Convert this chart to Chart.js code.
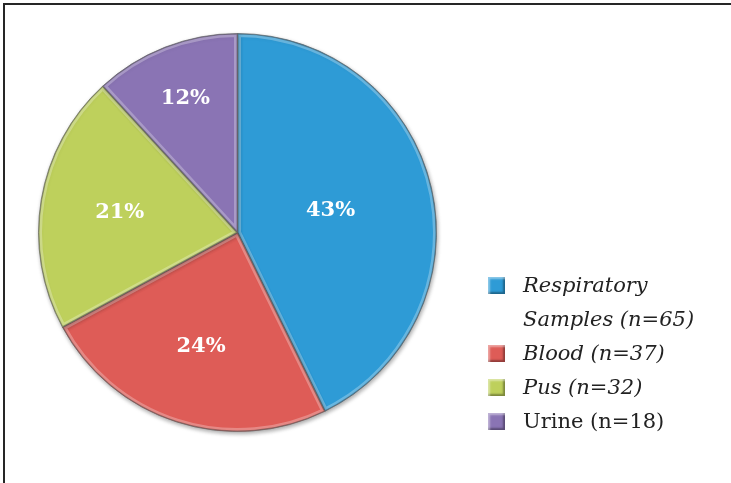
<!DOCTYPE html>
<html>
<head>
<meta charset="utf-8">
<script src="https://cdn.jsdelivr.net/npm/chart.js@4.4.1/dist/chart.umd.min.js"></script>
<style>
  html, body { margin: 0; padding: 0; background: #fff; }
  .frame {
    position: absolute; left: 3px; top: 3px; width: 740px; height: 490px;
    border-top: 2px solid #262626; border-left: 2px solid #262626;
  }
  .chart-box { position: absolute; left: 0; top: 0; width: 731px; height: 483px; }
  .legend { position: absolute; left: 488px; top: 268px; font-family: 'DejaVu Serif', serif; font-size: 21px; color: #222; }
  .legend-item { position: relative; padding-left: 35px; line-height: 34px; white-space: nowrap; }
  .legend-item.italic { font-style: italic; }
  .legend-box {
    position: absolute; left: 0; top: 9px; width: 17px; height: 17px;
    box-shadow: inset 2px 2px 2px rgba(255,255,255,0.45), inset -2px -2px 2px rgba(0,0,0,0.35);
  }
</style>
</head>
<body>
<div class="frame"></div>
<div class="chart-box"><canvas id="pieChart"></canvas></div>
<div class="legend" id="legend"></div>
<script>
// 검체별 분포
const labels = ['Respiratory Samples', 'Blood', 'Pus', 'Urine'];
const counts = [65, 37, 32, 18];
const legendText = [
  ['Respiratory', 'Samples (n=65)'],
  ['Blood (n=37)'],
  ['Pus (n=32)'],
  ['Urine (n=18)'],
];
const legendItalic = [true, true, true, false];
const colors = ['#2E9BD6', '#DE5C57', '#BED05C', '#8A74B4'];

// 라벨 위치 (반지름 비율)
const labelRadius = [0.48, 0.6, 0.6, 0.72];

const total = counts.reduce((a, b) => a + b, 0);

// 입체감 표현 (그림자 + 하이라이트)
const bevelPlugin = {
  id: 'bevel',
  beforeDatasetsDraw(chart) {
    const ctx = chart.ctx;
    ctx.save();
    ctx.shadowColor = 'rgba(0,0,0,0.35)';
    ctx.shadowBlur = 4;
    ctx.shadowOffsetX = 1;
    ctx.shadowOffsetY = 2;
  },
  afterDatasetsDraw(chart) {
    const ctx = chart.ctx;
    ctx.restore();
    const meta = chart.getDatasetMeta(0);
    meta.data.forEach((arc) => {
      const { x, y, startAngle, endAngle, outerRadius } = arc.getProps(
        ['x', 'y', 'startAngle', 'endAngle', 'outerRadius'],
        true
      );
      ctx.save();
      ctx.beginPath();
      ctx.moveTo(x, y);
      ctx.arc(x, y, outerRadius, startAngle, endAngle);
      ctx.closePath();
      ctx.clip();
      ctx.lineJoin = 'round';
      ctx.strokeStyle = 'rgba(255,255,255,0.28)';
      ctx.lineWidth = 7;
      ctx.stroke();
      ctx.strokeStyle = 'rgba(0,0,0,0.28)';
      ctx.lineWidth = 2;
      ctx.stroke();
      ctx.restore();
    });
  },
};

// 퍼센트 라벨
const percentLabels = {
  id: 'percentLabels',
  afterDraw(chart) {
    const ctx = chart.ctx;
    const meta = chart.getDatasetMeta(0);
    ctx.save();
    ctx.font = 'bold 21px "DejaVu Serif", serif';
    ctx.fillStyle = '#fff';
    ctx.textAlign = 'center';
    ctx.textBaseline = 'middle';
    meta.data.forEach((arc, i) => {
      const { x, y, startAngle, endAngle, outerRadius } = arc.getProps(
        ['x', 'y', 'startAngle', 'endAngle', 'outerRadius'],
        true
      );
      const mid = (startAngle + endAngle) / 2;
      const r = outerRadius * labelRadius[i];
      const pct = Math.round((counts[i] / total) * 100);
      ctx.fillText(pct + '%', x + Math.cos(mid) * r, y + Math.sin(mid) * r);
    });
    ctx.restore();
  },
};

const config = {
  type: 'pie',
  data: {
    labels,
    datasets: [
      {
        data: counts,
        backgroundColor: colors,
        borderColor: 'rgba(70,70,70,0.55)',
        borderWidth: 1,
      },
    ],
  },
  options: {
    responsive: true,
    maintainAspectRatio: false,
    animation: false,
    layout: {
      padding: { left: 38, top: 33, right: 294, bottom: 51 },
    },
    plugins: {
      legend: { display: false },
      tooltip: { enabled: false },
    },
  },
  plugins: [bevelPlugin, percentLabels],
};

new Chart(document.getElementById('pieChart').getContext('2d'), config);

// 범례
const legendEl = document.getElementById('legend');
legendText.forEach((lines, i) => {
  const item = document.createElement('div');
  item.className = 'legend-item' + (legendItalic[i] ? ' italic' : '');
  const box = document.createElement('span');
  box.className = 'legend-box';
  box.style.background = colors[i];
  item.appendChild(box);
  lines.forEach((line, j) => {
    if (j > 0) item.appendChild(document.createElement('br'));
    item.appendChild(document.createTextNode(line));
  });
  legendEl.appendChild(item);
});
</script>
</body>
</html>
